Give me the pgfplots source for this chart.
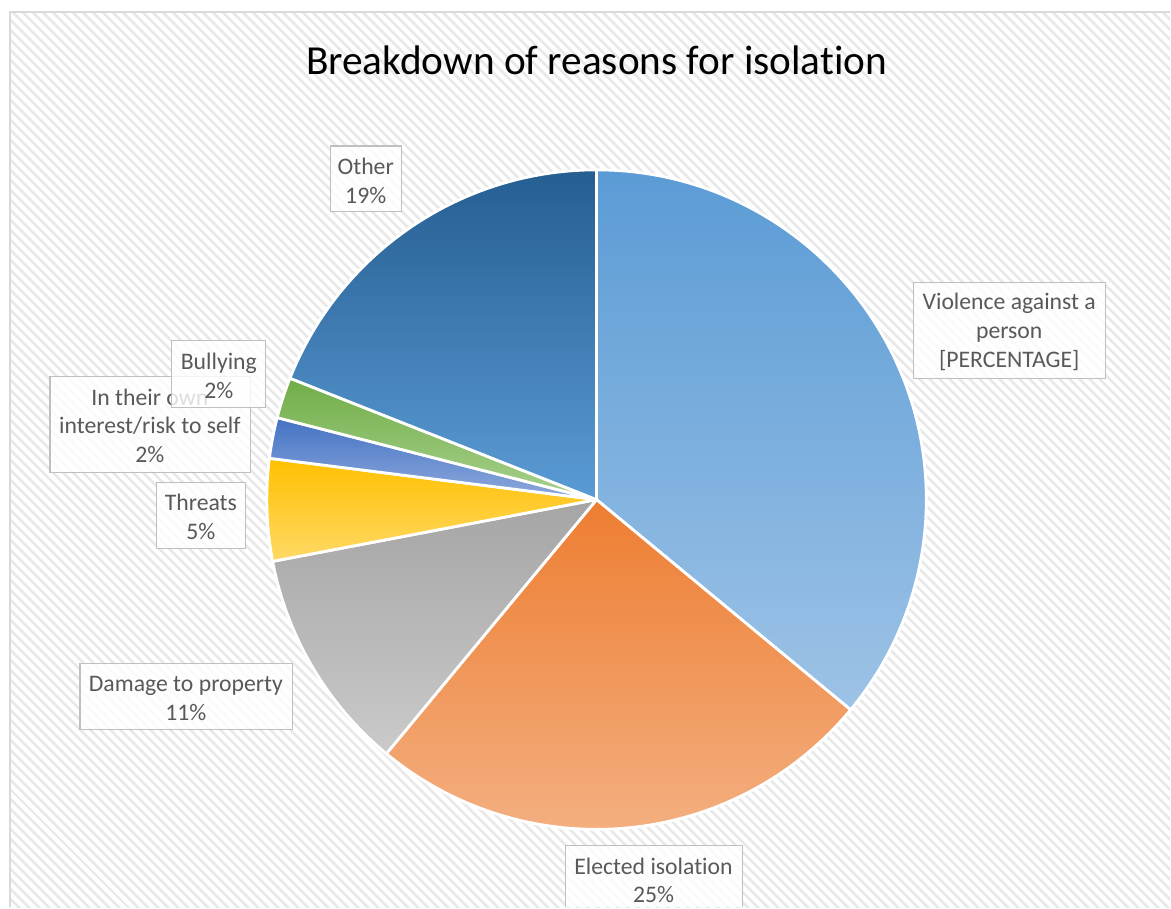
\documentclass[border=0pt]{standalone}
\usepackage{fontspec}
\setmainfont{Carlito}[RawFeature={-liga;-clig;-calt;-dlig}]
\usepackage{pgfplots}
\usepackage{pgfplotstable}
\pgfplotsset{compat=1.18}
\usetikzlibrary{patterns.meta}

\definecolor{txtgray}{HTML}{595959}
\definecolor{boxgray}{HTML}{BFBFBF}
\definecolor{frame}{HTML}{D9D9D9}
\definecolor{stripe}{HTML}{E9E9E9}
% slice gradients, top -> bottom
\definecolor{pT0}{HTML}{5B9BD5}\definecolor{pB0}{HTML}{9DC3E6}
\definecolor{pT1}{HTML}{ED7D31}\definecolor{pB1}{HTML}{F4B183}
\definecolor{pT2}{HTML}{A5A5A5}\definecolor{pB2}{HTML}{CACACA}
\definecolor{pT3}{HTML}{FFC000}\definecolor{pB3}{HTML}{FFD966}
\definecolor{pT4}{HTML}{4472C4}\definecolor{pB4}{HTML}{8FAADC}
\definecolor{pT5}{HTML}{70AD47}\definecolor{pB5}{HTML}{A9D18E}
\definecolor{pT6}{HTML}{255E91}\definecolor{pB6}{HTML}{5B9BD5}

% shares in %, clockwise from 12 o'clock
\pgfplotstableread{
pct
36
25
11
5
2
2
19
}\piedata

\tikzset{
  lab/.style={font=\fontsize{13.5}{16.4}\selectfont, text=txtgray, align=center},
  lbl/.style={fill=white, fill opacity=0.8, draw=boxgray, draw opacity=1, line width=0.7pt},
}

\begin{document}
\begin{tikzpicture}
\def\acc{90}
\foreach \i in {0,...,6}{
  \pgfplotstablegetelem{\i}{pct}\of\piedata
  \pgfmathsetmacro\s{\acc}
  \pgfmathsetmacro\e{\acc-3.6*\pgfplotsretval}
  \expandafter\xdef\csname pieS\i\endcsname{\s}
  \expandafter\xdef\csname pieE\i\endcsname{\e}
  \xdef\acc{\e}
}
\begin{axis}[
    width=23.42cm,
    height=18.16cm,
    scale only axis,
    hide axis,
    clip=false,
    xmin=0, xmax=1171,
    ymin=0, ymax=908,
    y dir=reverse,
]
% chart area background
\fill[white] (axis cs:0,0) rectangle (axis cs:1171,908);
\fill[pattern={Lines[angle=-45,distance=4pt,line width=1.5pt]}, pattern color=stripe]
    (axis cs:10,12) rectangle (axis cs:1171,908);
\draw[frame, line width=1pt] (axis cs:10,908) -- (axis cs:10,12) -- (axis cs:1171,12);

% title
\node[font=\fontsize{23.5}{28}\selectfont, text=black] at (axis cs:597,60) {Breakdown of reasons for isolation};

% slices
\pgfplotsinvokeforeach{0,...,6}{
  \shadedraw[top color=pT#1, bottom color=pB#1, draw=white, line width=1.6pt, line join=round]
    (axis cs:597,500) -- ++(\csname pieS#1\endcsname:6.6cm)
    arc[start angle=\csname pieS#1\endcsname, end angle=\csname pieE#1\endcsname, radius=6.6cm] -- cycle;
}

% data labels
\path[lbl] (axis cs:914,283) rectangle (axis cs:1106,379);
\node[lab] at (axis cs:1010,332) {Violence against a\\person\\{[PERCENTAGE]}};

\fill[white, opacity=0.8] (axis cs:566,846) rectangle (axis cs:743,908);
\draw[boxgray, line width=0.7pt] (axis cs:566,908) -- (axis cs:566,846) -- (axis cs:743,846) -- (axis cs:743,908);
\node[lab] at (axis cs:654,881) {Elected isolation\\25\%};

\path[lbl] (axis cs:80,664) rectangle (axis cs:293,730);
\node[lab] at (axis cs:186,699) {Damage to property\\11\%};

\path[lbl] (axis cs:157,483) rectangle (axis cs:246,549);
\node[lab] at (axis cs:201,517) {Threats\\5\%};

\path[lbl] (axis cs:50,377) rectangle (axis cs:251,473);
\node[lab] at (axis cs:150,426) {In their own\\interest/risk to self\\2\%};

\path[lbl] (axis cs:172,341) rectangle (axis cs:266,408);
\node[lab] at (axis cs:219,376) {Bullying\\2\%};

\path[lbl] (axis cs:331,146) rectangle (axis cs:402,212);
\node[lab] at (axis cs:366,181) {Other\\19\%};
\end{axis}
\end{tikzpicture}
\end{document}
